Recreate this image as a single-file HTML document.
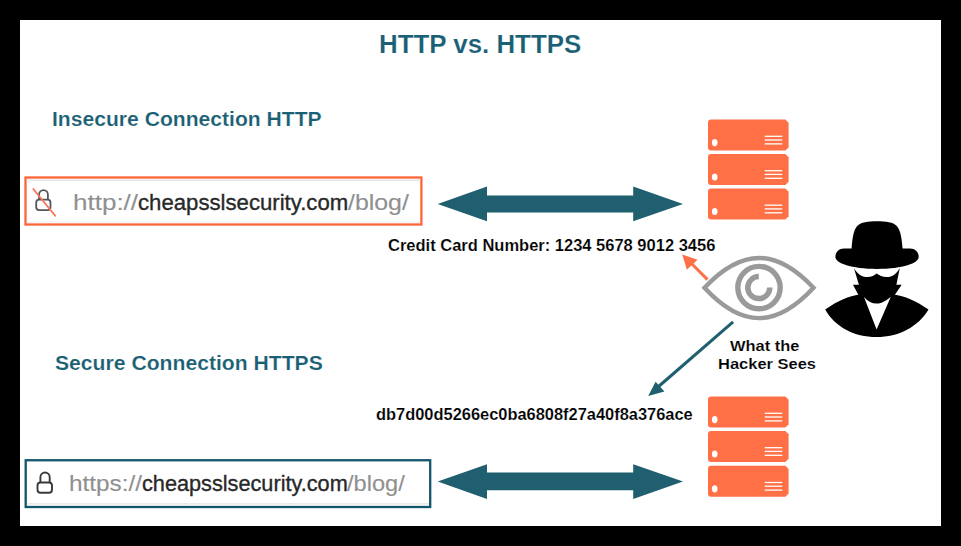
<!DOCTYPE html>
<html><head><meta charset="utf-8">
<style>
html,body{margin:0;padding:0;}
body{width:961px;height:546px;background:#000;position:relative;overflow:hidden;font-family:"Liberation Sans",sans-serif;}
#page{position:absolute;left:20px;top:20px;width:921px;height:506px;background:#fff;}
.t{position:absolute;white-space:nowrap;transform-origin:0 0;font-weight:bold;-webkit-text-stroke:0.15px #fff;}
.title{left:379.3px;top:30.6px;font-size:26px;line-height:26px;color:#1b5f75;transform:scaleX(0.995);}
.h1{left:52px;top:109px;font-size:20px;line-height:20px;color:#1b5f75;transform:scaleX(1.055);}
.h2{left:54.5px;top:353px;font-size:20px;line-height:20px;color:#1b5f75;transform:scaleX(1.057);}
.cc{left:387.7px;top:238px;font-size:16px;line-height:16px;color:#000;transform:scaleX(1.031);}
.hash{left:376px;top:406.5px;font-size:16px;line-height:16px;color:#000;transform:scaleX(1.026);}
.w1{left:729.9px;top:338.2px;font-size:15.5px;line-height:15.5px;color:#000;transform:scaleX(1.06);}
.w2{left:717.9px;top:355.9px;font-size:15.5px;line-height:15.5px;color:#000;transform:scaleX(1.063);}
.url{position:absolute;white-space:nowrap;transform-origin:0 0;font-weight:normal;color:#282828;-webkit-text-stroke:0.35px #282828;}
.url.g{color:#909090;-webkit-text-stroke:0.15px #909090;}
.u1{font-size:22.5px;line-height:22.5px;top:191.5px;}
.u2{font-size:22px;line-height:22px;top:473px;}
svg{position:absolute;left:0;top:0;}
</style></head>
<body>
<div id="page"></div>
<svg width="961" height="546" viewBox="0 0 961 546">
  <!-- URL boxes -->
  <rect x="25.5" y="177.5" width="395.9" height="47" fill="#fff" stroke="#fd6538" stroke-width="2.3"/>
  <line x1="26.7" y1="180.2" x2="420.2" y2="180.2" stroke="#e4e6e6" stroke-width="1.4"/>
  <line x1="26.7" y1="222" x2="420.2" y2="222" stroke="#eeeeee" stroke-width="1.2"/>
  <rect x="25.7" y="460.25" width="404.5" height="46.75" fill="#fff" stroke="#11566a" stroke-width="2.3"/>
  <line x1="26.9" y1="503.9" x2="429" y2="503.9" stroke="#e6e3e2" stroke-width="1.4"/>
  <!-- locks -->
  <g fill="none" stroke="#56565d" stroke-width="1.8">
    <rect x="36.2" y="199.7" width="14.3" height="10.4" rx="3"/>
    <path d="M39.1,199.7 V194.6 A4.4,4.4 0 0 1 47.9,194.6 V199.7"/>
  </g>
  <line x1="33.3" y1="189" x2="55.2" y2="215.7" stroke="#ff7055" stroke-width="1.8" stroke-linecap="round"/>
  <g fill="none" stroke="#3a3a3a" stroke-width="1.9">
    <rect x="37.5" y="482.5" width="14.5" height="10.3" rx="3"/>
    <path d="M40.4,482.5 V477.15 A4.65,4.65 0 0 1 49.7,477.15 V482.5"/>
  </g>
  <!-- double arrows -->
  <path d="M437.7,204 L487,186.5 L487,195.5 L633.2,195.5 L633.2,186.5 L683,204 L633.2,221.3 L633.2,212.4 L487,212.4 L487,221.3 Z" fill="#1f5f6f"/>
  <path d="M437.7,481.5 L487,464.2 L487,472.6 L633.2,472.6 L633.2,464.2 L683,481.5 L633.2,499 L633.2,490.3 L487,490.3 L487,499 Z" fill="#1f5f6f"/>
  <!-- servers -->
  <defs>
    <g id="srv">
      <path d="M3,0 H77.4 L80.6,3.2 V27.8 L77.4,31 H3 Q0,31 0,28 V3 Q0,0 3,0 Z" fill="#ff7046"/>
      <ellipse cx="6.7" cy="23" rx="2.8" ry="3.6" fill="#fff"/>
      <g stroke="#fff" stroke-width="1.3">
        <line x1="56.7" y1="16.7" x2="74.3" y2="16.7"/>
        <line x1="56.7" y1="20.4" x2="74.3" y2="20.4"/>
        <line x1="56.7" y1="24.3" x2="74.3" y2="24.3"/>
      </g>
    </g>
  </defs>
  <use href="#srv" x="708" y="119.6"/>
  <use href="#srv" x="708" y="154"/>
  <use href="#srv" x="708" y="188.5"/>
  <use href="#srv" x="708" y="396.6"/>
  <use href="#srv" x="708" y="431"/>
  <use href="#srv" x="708" y="465.8"/>
  <!-- eye -->
  <g fill="none" stroke="#9a9a9a">
    <path d="M704.5,287.7 C742,248 776,248 813.5,287.7 C776,328.2 742,328.2 704.5,287.7 Z" stroke-width="4.4" stroke-linejoin="miter" stroke-miterlimit="10"/>
    <circle cx="759" cy="287.6" r="21.2" stroke-width="5.4"/>
    <path d="M769.8,287.6 A11,11 0 1 1 758.8,276.6" stroke-width="5.5"/>
  </g>
  <!-- orange arrow -->
  <line x1="707.5" y1="279.6" x2="690" y2="262" stroke="#ff7046" stroke-width="3"/>
  <path d="M682.2,254.5 L697.6,259.8 L686.9,269.7 Z" fill="#ff7046"/>
  <!-- teal arrow -->
  <line x1="733.1" y1="321.9" x2="658" y2="387" stroke="#1f5f6f" stroke-width="3"/>
  <path d="M648.2,396 L655.6,381.7 L664.4,391.6 Z" fill="#1f5f6f"/>
  <!-- hacker -->
  <g fill="#000">
    <path d="M851.5,249.5 C852.3,238 853.5,230 857.2,226 C861,222 868,221.2 877,221.2 C886,221.2 893,222 896.8,226 C900.5,230 901.7,238 902.6,249.5 Z"/>
    <path d="M844,248.6 L910,248.6 C915.5,248.6 918.7,252.5 918.7,257 C918.7,263 903,268.9 877,268.9 C851,268.9 835.4,263 835.4,257 C835.4,252.5 838.5,248.6 844,248.6 Z"/>
    <path d="M853.9,267.9 C857,273.5 861.5,277 867.4,277 C871.5,277 874.5,275.5 876.7,273.6 C879,275.5 882.5,277 886.7,277 C892.5,277 896.8,273.5 899.8,267.9 L896.4,284.8 L901.7,284.8 L894,296 C890,301 884,303.5 876.5,303.5 C869,303.5 863,301 859,296 L853,284.8 L858.9,284.8 Z"/>
    <path d="M825.2,309.6 C838,300.5 849,296 859.5,294.5 L876.5,300 L894,294.5 C904.5,296 915.5,300.5 928.5,309.6 C918,327 899,337.1 876.5,337.1 C854,337.1 835,327 825.2,309.6 Z"/>
  </g>
  <path d="M864,296.9 C868,301.5 872,303.5 876.5,303.5 C881,303.5 885,301.5 890.7,296.9 L876.6,329.6 Z" fill="#fff"/>
</svg>
<div class="t title">HTTP vs. HTTPS</div>
<div class="t h1">Insecure Connection HTTP</div>
<div class="t h2">Secure Connection HTTPS</div>
<div class="t cc">Credit Card Number: 1234 5678 9012 3456</div>
<div class="t hash">db7d00d5266ec0ba6808f27a40f8a376ace</div>
<div class="t w1">What the</div>
<div class="t w2">Hacker Sees</div>
<div class="url u1 g" style="left:72.8px;transform:scaleX(1.156)">http://</div>
<div class="url u1" style="left:137.6px;transform:scaleX(0.985)">cheapsslsecurity.com</div>
<div class="url u1 g" style="left:347.8px;transform:scaleX(1.105)">/blog/</div>
<div class="url u2 g" style="left:69.2px;transform:scaleX(1.105)">https://</div>
<div class="url u2" style="left:142.1px;transform:scaleX(0.986)">cheapsslsecurity.com</div>
<div class="url u2 g" style="left:347.1px;transform:scaleX(1.072)">/blog/</div>
</body></html>
